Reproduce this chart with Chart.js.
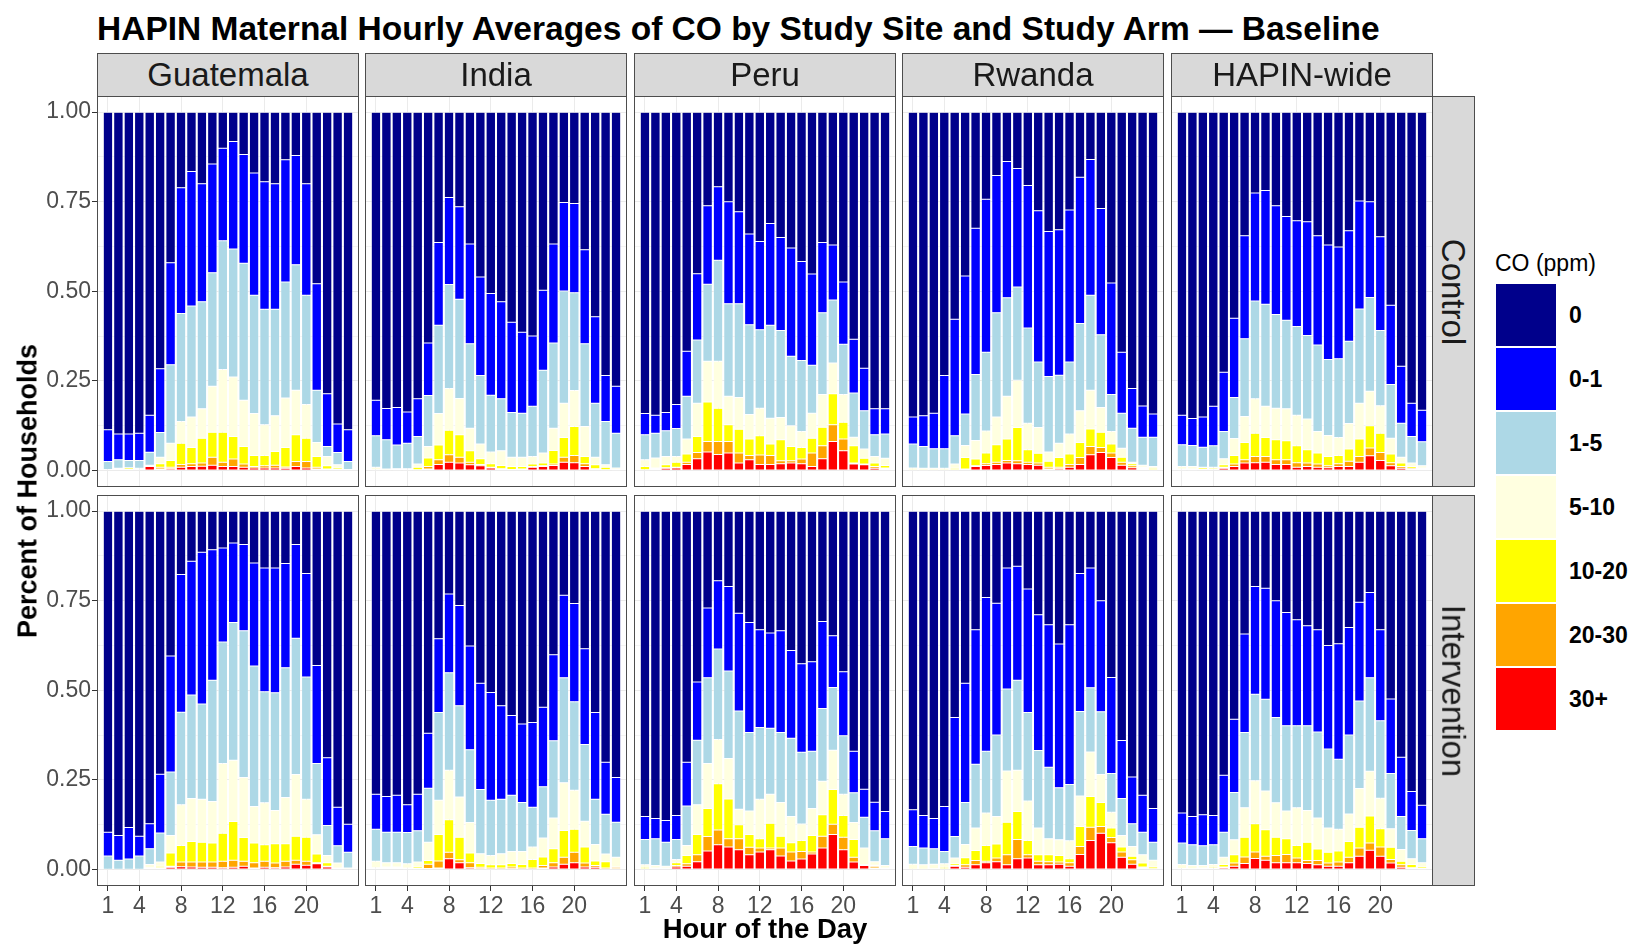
<!DOCTYPE html>
<html lang="en">
<head>
<meta charset="UTF-8">
<title>HAPIN Maternal Hourly Averages of CO</title>
<script src="https://cdn.jsdelivr.net/npm/chart.js"></script>
<style>
  body { margin: 0; background: #fff; font-family: "Liberation Sans", Arial, sans-serif; }
  #page { position: relative; width: 1631px; height: 946px; overflow: hidden; background: #fff; }
  .txt { position: absolute; white-space: nowrap; line-height: 1; }
  .strip { position: absolute; background: #D9D9D9; border: 1px solid #4D4D4D; box-sizing: border-box;
           display: flex; align-items: center; justify-content: center; color: #1A1A1A; font-size: 33px; }
  .frame { position: absolute; border: 1px solid #4D4D4D; box-sizing: border-box; pointer-events: none; }
  canvas { position: absolute; }
</style>
</head>
<body>
<div id="page"></div>

<script>
// categories and ticks
const hours = [1, 2, 3, 4, 5, 6, 7, 8, 9, 10, 11, 12, 13, 14, 15, 16, 17, 18, 19, 20, 21, 22, 23, 24];
const hourTicks = [1, 4, 8, 12, 16, 20];
const yTicks = [0, 0.25, 0.5, 0.75, 1];
const yMinor = [0.125, 0.375, 0.625, 0.875];
const sites = ['Guatemala', 'India', 'Peru', 'Rwanda', 'HAPIN-wide'];
const arms = ['Control', 'Intervention'];
const levels = ['0', '0-1', '1-5', '5-10', '10-20', '20-30', '30+'];
const levelColors = ['#00008B', '#0000FF', '#ADD8E6', '#FFFFE0', '#FFFF00', '#FFA500', '#FF0000'];

// each panel: upper edge (share of households) of the 30+, 20-30, 10-20, 5-10, 1-5 and 0-1 bands, hours 1..24
// the "0" band runs from the 0-1 edge up to 1.00
const guaControl = [
  [.003,.002,.002,.002,.011,.004,.005,.009,.011,.012,.015,.011,.011,.009,.007,.007,.007,.006,.011,.007,.004,.003,.003,.003],
  [.003,.003,.003,.003,.012,.009,.009,.017,.019,.021,.037,.023,.032,.018,.011,.013,.015,.010,.025,.025,.009,.004,.003,.003],
  [.003,.005,.007,.005,.013,.019,.028,.076,.064,.090,.107,.107,.095,.067,.042,.042,.053,.064,.100,.090,.039,.013,.007,.003],
  [.003,.006,.008,.006,.015,.037,.076,.137,.149,.172,.235,.282,.261,.196,.159,.128,.153,.202,.224,.184,.078,.039,.016,.003],
  [.025,.030,.028,.028,.051,.106,.295,.438,.459,.471,.552,.641,.618,.578,.489,.450,.450,.526,.574,.489,.224,.067,.050,.025],
  [.114,.102,.102,.104,.154,.284,.580,.789,.834,.800,.855,.899,.918,.882,.830,.806,.800,.867,.879,.800,.521,.214,.130,.114]
];
const indControl = [
  [0,0,0,0,.001,.004,.017,.023,.021,.016,.013,.007,.004,.002,.003,.009,.011,.014,.023,.022,.011,.003,.001,0],
  [.001,0,.001,.001,.002,.011,.030,.044,.037,.023,.017,.009,.005,.003,.004,.011,.013,.018,.037,.042,.019,.005,.002,.001],
  [.002,.001,.003,.003,.009,.035,.071,.112,.100,.055,.033,.019,.014,.011,.011,.018,.021,.056,.092,.123,.039,.016,.009,.003],
  [.009,.004,.005,.005,.018,.067,.159,.229,.201,.118,.074,.052,.055,.037,.037,.039,.049,.118,.188,.223,.123,.037,.016,.007],
  [.097,.086,.071,.076,.095,.209,.405,.519,.478,.354,.265,.210,.200,.162,.160,.179,.280,.356,.501,.496,.354,.188,.137,.104],
  [.196,.173,.176,.163,.200,.356,.636,.762,.736,.632,.540,.494,.471,.414,.386,.375,.503,.632,.748,.745,.616,.429,.265,.235]
];
const perControl = [
  [0,.004,.006,.007,.017,.033,.052,.045,.049,.021,.030,.017,.017,.019,.021,.019,.011,.033,.081,.055,.018,.016,.006,.004],
  [.002,.005,.008,.009,.023,.050,.081,.081,.081,.049,.042,.043,.042,.027,.027,.032,.049,.069,.128,.088,.021,.018,.011,.007],
  [.011,.007,.016,.023,.046,.095,.191,.174,.128,.115,.088,.097,.074,.086,.067,.064,.090,.121,.214,.135,.069,.034,.021,.014],
  [.030,.035,.039,.039,.088,.188,.305,.305,.207,.204,.156,.174,.146,.148,.125,.109,.160,.212,.300,.212,.093,.060,.039,.034],
  [.100,.104,.111,.117,.207,.364,.520,.587,.465,.465,.407,.393,.405,.391,.319,.307,.294,.440,.476,.352,.216,.167,.100,.102],
  [.159,.154,.162,.184,.333,.549,.739,.792,.750,.722,.660,.639,.689,.650,.621,.583,.548,.636,.629,.526,.366,.285,.172,.172]
];
const rwaControl = [
  [0,0,0,0,.001,.002,.011,.014,.017,.021,.019,.017,.015,.004,.005,.009,.017,.044,.050,.036,.015,.008,.004,.001],
  [0,0,0,0,.002,.004,.013,.019,.023,.028,.027,.023,.021,.009,.009,.017,.036,.067,.064,.049,.023,.013,.007,.002],
  [.001,.001,.001,.001,.006,.036,.032,.049,.072,.088,.120,.058,.048,.026,.036,.046,.078,.116,.107,.074,.037,.019,.009,.006],
  [.007,.006,.006,.006,.018,.070,.084,.110,.149,.207,.252,.132,.120,.052,.076,.102,.167,.224,.176,.109,.062,.023,.015,.011],
  [.074,.067,.061,.061,.097,.158,.268,.330,.440,.482,.512,.398,.303,.262,.266,.303,.410,.489,.379,.212,.160,.118,.093,.093],
  [.149,.153,.160,.265,.422,.543,.676,.757,.823,.862,.843,.795,.725,.667,.672,.727,.818,.868,.731,.523,.330,.229,.180,.158]
];
const allControl = [
  [.001,.001,.002,.002,.006,.011,.021,.022,.023,.017,.017,.009,.011,.009,.008,.011,.011,.023,.041,.028,.013,.006,.003,.002],
  [.002,.002,.003,.004,.009,.018,.030,.039,.039,.030,.030,.022,.021,.018,.013,.019,.026,.039,.063,.050,.022,.011,.006,.004],
  [.004,.004,.007,.008,.016,.042,.078,.104,.092,.086,.083,.069,.058,.049,.039,.042,.060,.088,.125,.104,.046,.021,.011,.007],
  [.011,.011,.009,.009,.033,.089,.151,.200,.179,.174,.172,.154,.144,.109,.098,.092,.131,.188,.221,.181,.090,.037,.021,.013],
  [.072,.070,.065,.069,.109,.204,.368,.473,.464,.435,.419,.402,.377,.350,.310,.312,.361,.451,.483,.391,.240,.132,.095,.080],
  [.154,.145,.149,.179,.274,.425,.655,.774,.781,.739,.709,.697,.694,.655,.629,.624,.669,.752,.750,.652,.461,.291,.188,.168]
];
const guaIntervention = [
  [0,0,0,0,.002,.002,.006,.008,.007,.006,.006,.005,.006,.009,.004,.006,.005,.007,.015,.012,.016,.007,.001,0],
  [0,0,0,0,.002,.005,.009,.021,.021,.021,.021,.023,.026,.023,.019,.023,.018,.023,.026,.023,.019,.009,.002,.001],
  [0,0,0,0,.005,.009,.046,.067,.078,.076,.074,.101,.134,.089,.074,.069,.072,.072,.093,.090,.043,.019,.004,.001],
  [.001,.001,.001,.001,.014,.021,.095,.181,.198,.196,.190,.296,.305,.257,.176,.186,.165,.201,.265,.196,.097,.039,.018,.004],
  [.038,.026,.029,.038,.058,.102,.272,.439,.487,.462,.528,.635,.689,.666,.568,.496,.493,.563,.645,.537,.296,.123,.066,.048],
  [.104,.095,.117,.093,.128,.266,.596,.823,.860,.885,.892,.897,.911,.907,.855,.841,.841,.854,.907,.826,.569,.312,.174,.126]
];
const indIntervention = [
  [.002,.004,.003,.001,.001,.003,.004,.030,.019,.005,.002,.001,.001,.002,.001,.001,.004,.007,.015,.019,.007,.006,.001,.002],
  [.004,.006,.005,.003,.003,.015,.024,.048,.027,.019,.006,.004,.004,.007,.004,.004,.011,.019,.034,.048,.018,.011,.004,.006],
  [.005,.007,.007,.004,.007,.025,.098,.139,.090,.046,.017,.013,.013,.017,.014,.028,.035,.058,.109,.112,.063,.024,.022,.007],
  [.023,.019,.019,.016,.021,.076,.193,.277,.202,.131,.044,.039,.044,.050,.050,.063,.088,.144,.242,.221,.135,.070,.043,.034],
  [.112,.104,.104,.103,.108,.227,.438,.549,.457,.334,.223,.193,.196,.207,.187,.174,.231,.359,.535,.468,.349,.196,.154,.132],
  [.210,.204,.207,.181,.210,.380,.644,.769,.737,.624,.520,.494,.457,.430,.406,.410,.453,.599,.765,.742,.616,.438,.299,.257]
];
const perIntervention = [
  [.001,.002,.002,.007,.009,.022,.052,.069,.063,.055,.041,.049,.055,.038,.024,.029,.043,.060,.098,.055,.021,.011,.004,.001],
  [.002,.003,.003,.011,.016,.041,.092,.110,.086,.086,.062,.060,.060,.060,.049,.050,.049,.093,.126,.090,.034,.011,.009,.002],
  [.006,.004,.004,.019,.039,.098,.170,.239,.197,.125,.098,.086,.129,.093,.075,.081,.095,.153,.223,.151,.084,.013,.012,.004],
  [.013,.011,.009,.028,.067,.181,.296,.363,.310,.168,.163,.196,.210,.187,.148,.127,.170,.246,.333,.210,.131,.060,.022,.011],
  [.084,.086,.076,.084,.177,.361,.535,.615,.554,.442,.382,.396,.394,.382,.366,.327,.330,.449,.508,.373,.214,.146,.108,.086],
  [.148,.142,.137,.151,.299,.523,.730,.806,.790,.715,.689,.669,.660,.666,.611,.574,.580,.692,.652,.552,.330,.224,.188,.162]
];
const rwaIntervention = [
  [0,0,0,.001,.009,.006,.013,.019,.022,.013,.030,.032,.013,.013,.015,.009,.042,.081,.101,.075,.034,.015,.004,.001],
  [0,0,0,.002,.011,.013,.025,.023,.032,.041,.084,.041,.023,.022,.021,.019,.064,.118,.120,.089,.049,.027,.007,.002],
  [.001,.001,.002,.006,.016,.033,.053,.067,.071,.132,.162,.081,.041,.041,.039,.030,.120,.204,.187,.116,.063,.037,.018,.007],
  [.015,.013,.015,.016,.032,.070,.116,.158,.148,.275,.277,.191,.116,.086,.083,.080,.205,.328,.265,.160,.095,.064,.041,.026],
  [.064,.060,.058,.050,.092,.187,.294,.330,.375,.504,.528,.438,.332,.285,.228,.237,.441,.507,.440,.268,.198,.128,.104,.076],
  [.167,.151,.142,.176,.424,.520,.669,.759,.743,.841,.846,.783,.711,.683,.629,.683,.826,.841,.750,.536,.360,.258,.207,.170]
];
const allIntervention = [
  [.001,.001,.001,.002,.005,.009,.017,.031,.026,.019,.019,.019,.017,.013,.009,.009,.019,.037,.054,.037,.018,.006,.002,.001],
  [.002,.001,.002,.003,.007,.018,.035,.049,.037,.039,.042,.032,.025,.025,.018,.021,.034,.060,.074,.063,.028,.013,.005,.003],
  [.003,.002,.004,.006,.014,.041,.090,.128,.111,.090,.086,.067,.076,.057,.048,.052,.078,.118,.149,.114,.062,.023,.014,.007],
  [.014,.011,.011,.014,.034,.083,.172,.248,.219,.186,.163,.172,.165,.144,.116,.112,.155,.226,.274,.199,.114,.056,.030,.019],
  [.074,.069,.066,.069,.104,.215,.382,.489,.475,.424,.401,.401,.401,.384,.336,.308,.375,.470,.535,.415,.268,.148,.109,.086],
  [.158,.148,.153,.151,.263,.419,.657,.790,.785,.750,.717,.697,.680,.669,.625,.630,.675,.746,.773,.669,.476,.313,.218,.179]
];

const panels = [
  [guaControl, indControl, perControl, rwaControl, allControl],
  [guaIntervention, indIntervention, perIntervention, rwaIntervention, allIntervention]
];

// layout (px)
const colX = [97, 365, 634, 902, 1171];
const rowY = [96, 495];
const panelW = 262, panelH = 391;
const FONT = '"Liberation Sans", Arial, sans-serif';
Chart.defaults.font.family = FONT;

const page = document.getElementById('page');

function addText(txt, css) {
  const d = document.createElement('div');
  d.className = 'txt';
  d.textContent = txt;
  Object.assign(d.style, css);
  page.appendChild(d);
  return d;
}

function isMajor(v) { return yTicks.some(t => Math.abs(t - v) < 1e-6); }

function noPad(s) { s.paddingTop = 0; s.paddingBottom = 0; s.paddingLeft = 0; s.paddingRight = 0; }

function makePanel(r, c) {
  const tops = panels[r][c];
  const yAxisW = c === 0 ? colX[0] : 0;
  const xAxisH = r === 1 ? 40 : 0;
  const cv = document.createElement('canvas');
  cv.width = panelW + yAxisW;
  cv.height = panelH + xAxisH;
  cv.style.left = (colX[c] - yAxisW) + 'px';
  cv.style.top = rowY[r] + 'px';
  page.appendChild(cv);

  // bottom band first: 30+, 20-30, ... , 0
  const datasets = [];
  for (let k = 0; k < 7; k++) {
    datasets.push({
      label: levels[6 - k],
      data: hours.map((h, i) => ({
        x: h,
        y: [k === 0 ? 0 : tops[k - 1][i], k === 6 ? 1 : tops[k][i]]
      })),
      backgroundColor: levelColors[6 - k],
      borderColor: '#FFFFFF',
      borderWidth: 0.5,
      borderSkipped: false,
      grouped: false,
      categoryPercentage: 1,
      barPercentage: 0.9
    });
  }

  new Chart(cv, {
    type: 'bar',
    data: { datasets },
    options: {
      responsive: false,
      animation: false,
      layout: { padding: 0 },
      plugins: { legend: { display: false }, tooltip: { enabled: false } },
      scales: {
        x: {
          type: 'linear', min: -0.05, max: 25.05, offset: false,
          afterBuildTicks: a => { a.ticks = hourTicks.map(v => ({ value: v })); },
          afterFit: s => { s.height = xAxisH; noPad(s); },
          grid: { color: '#EBEBEB', offset: false, drawTicks: r === 1, tickLength: 5, tickColor: '#333333' },
          border: { display: false },
          ticks: { display: r === 1, autoSkip: false, maxRotation: 0, padding: 2, color: '#4D4D4D',
                   font: { size: 23 }, callback: v => String(v) }
        },
        y: {
          type: 'linear', min: -0.046, max: 1.045,
          afterBuildTicks: a => { a.ticks = yTicks.concat(yMinor).sort((p, q) => p - q).map(v => ({ value: v })); },
          afterFit: s => { s.width = yAxisW; noPad(s); },
          grid: {
            color: ctx => (ctx.tick && isMajor(ctx.tick.value)) ? '#EBEBEB' : '#F4F4F4',
            drawTicks: c === 0, tickLength: 5,
            tickColor: ctx => (ctx.tick && isMajor(ctx.tick.value)) ? '#333333' : 'rgba(0,0,0,0)'
          },
          border: { display: false },
          ticks: { display: c === 0, autoSkip: false, padding: 1, color: '#4D4D4D', font: { size: 23 },
                   callback: v => isMajor(v) ? v.toFixed(2) : '' }
        }
      }
    }
  });

  const f = document.createElement('div');
  f.className = 'frame';
  Object.assign(f.style, { left: colX[c] + 'px', top: rowY[r] + 'px', width: panelW + 'px', height: panelH + 'px' });
  page.appendChild(f);
}

for (let r = 0; r < 2; r++) for (let c = 0; c < 5; c++) makePanel(r, c);

// site strips
sites.forEach((s, c) => {
  const d = document.createElement('div');
  d.className = 'strip';
  d.textContent = s;
  Object.assign(d.style, { left: colX[c] + 'px', top: '53px', width: panelW + 'px', height: '44px' });
  page.appendChild(d);
});
// arm strips
arms.forEach((a, r) => {
  const d = document.createElement('div');
  d.className = 'strip';
  Object.assign(d.style, { left: (colX[4] + panelW - 1) + 'px', top: rowY[r] + 'px', width: '43px', height: panelH + 'px' });
  const t = document.createElement('span');
  t.textContent = a;
  t.style.transform = 'rotate(90deg)';
  t.style.whiteSpace = 'nowrap';
  d.appendChild(t);
  page.appendChild(d);
});

// titles
addText('HAPIN Maternal Hourly Averages of CO by Study Site and Study Arm \u2014 Baseline',
  { left: '97px', top: '12px', fontSize: '33.5px', fontWeight: 'bold', color: '#000' });
addText('Percent of Households',
  { left: '28px', top: '491px', fontSize: '27px', fontWeight: 'bold', color: '#000',
    transform: 'translate(-50%, -50%) rotate(-90deg)' });
addText('Hour of the Day',
  { left: '765px', top: '929px', fontSize: '27.5px', fontWeight: 'bold', color: '#000',
    transform: 'translate(-50%, -50%)' });

// legend
addText('CO (ppm)', { left: '1495px', top: '263px', fontSize: '23px', color: '#000', transform: 'translateY(-50%)' });
levels.forEach((lv, i) => {
  const top = 283 + i * 64;
  const k = document.createElement('div');
  Object.assign(k.style, { position: 'absolute', left: '1495px', top: top + 'px', width: '62px', height: '64px',
    background: levelColors[i], border: '1px solid #fff', boxSizing: 'border-box' });
  page.appendChild(k);
  addText(lv, { left: '1569px', top: (top + 32) + 'px', fontSize: '23px', fontWeight: 'bold', color: '#000',
    transform: 'translateY(-50%)' });
});
</script>
</body>
</html>
